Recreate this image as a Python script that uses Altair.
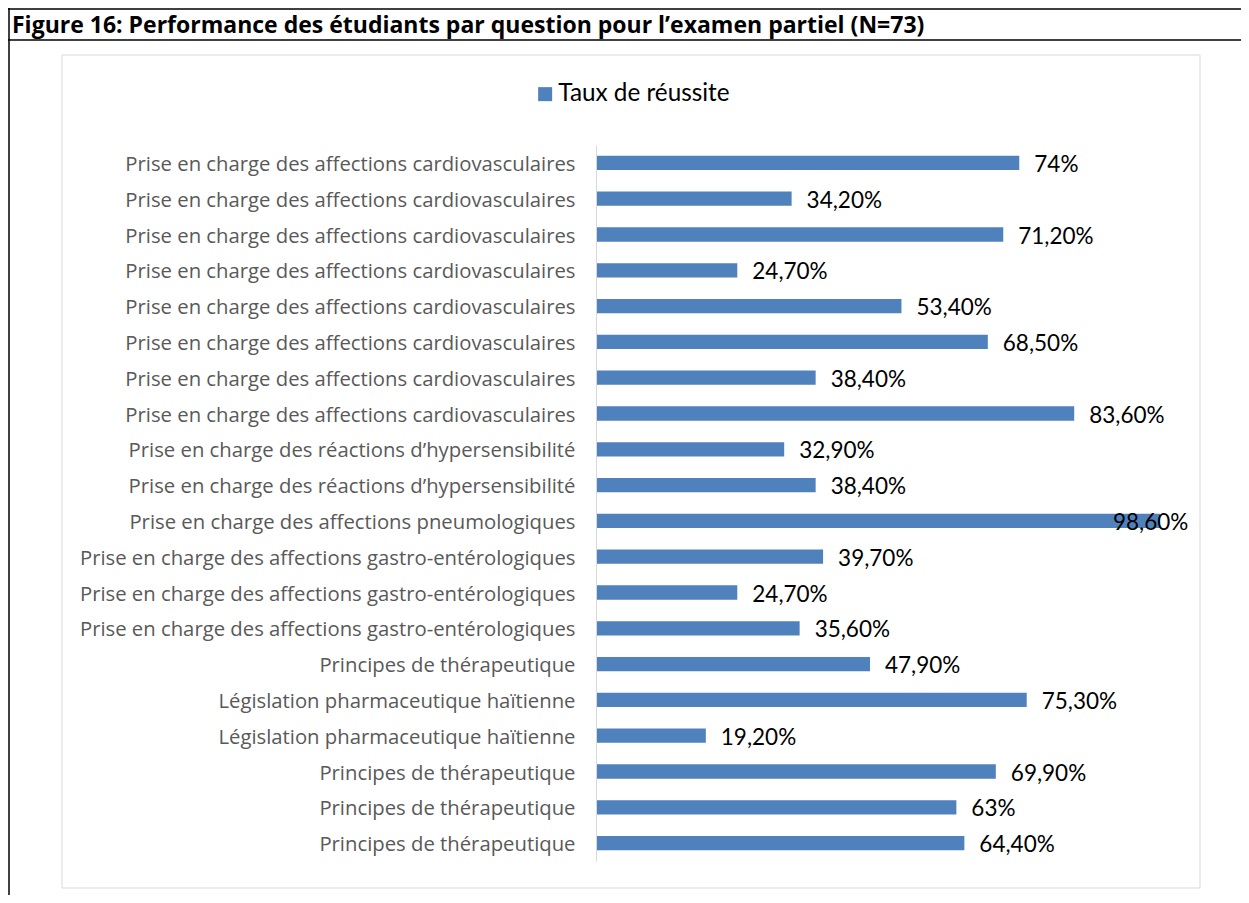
import json
import altair as alt
import pandas as pd

categories = [
    "Prise en charge des affections cardiovasculaires",
    "Prise en charge des affections cardiovasculaires",
    "Prise en charge des affections cardiovasculaires",
    "Prise en charge des affections cardiovasculaires",
    "Prise en charge des affections cardiovasculaires",
    "Prise en charge des affections cardiovasculaires",
    "Prise en charge des affections cardiovasculaires",
    "Prise en charge des affections cardiovasculaires",
    "Prise en charge des réactions d’hypersensibilité",
    "Prise en charge des réactions d’hypersensibilité",
    "Prise en charge des affections pneumologiques",
    "Prise en charge des affections gastro-entérologiques",
    "Prise en charge des affections gastro-entérologiques",
    "Prise en charge des affections gastro-entérologiques",
    "Principes de thérapeutique",
    "Législation pharmaceutique haïtienne",
    "Législation pharmaceutique haïtienne",
    "Principes de thérapeutique",
    "Principes de thérapeutique",
    "Principes de thérapeutique",
]
values = [74, 34.2, 71.2, 24.7, 53.4, 68.5, 38.4, 83.6, 32.9, 38.4,
          98.6, 39.7, 24.7, 35.6, 47.9, 75.3, 19.2, 69.9, 63, 64.4]
value_labels = ["74%", "34,20%", "71,20%", "24,70%", "53,40%", "68,50%", "38,40%",
                "83,60%", "32,90%", "38,40%", "98,60%", "39,70%", "24,70%", "35,60%",
                "47,90%", "75,30%", "19,20%", "69,90%", "63%", "64,40%"]
series_name = "Taux de réussite"
fig_title = "Figure 16: Performance des étudiants par question pour l’examen partiel (N=73)"

df = pd.DataFrame({
    "idx": list(range(len(categories))),
    "cat": categories,
    "v": values,
    "lab": value_labels,
    "serie": [series_name] * len(categories),
})

FONT = "Lato"
CAT_FONT = "Open Sans"
label_expr = json.dumps(categories, ensure_ascii=False) + "[datum.value]"

base = alt.Chart(df)

y_enc = alt.Y("idx:O", title=None,
              scale=alt.Scale(paddingInner=0.6, paddingOuter=0.3),
              axis=alt.Axis(labelExpr=label_expr, labelFont=CAT_FONT, labelFontSize=20.3,
                            labelColor="#595959", ticks=False, labelPadding=21,
                            labelOffset=2,
                            domainColor="#d9d9d9", domainWidth=1, labelLimit=600,
                            zindex=1))
x_scale = alt.Scale(domain=[0, 100], nice=False)

one = pd.DataFrame({"k": [0]})
deco = alt.Chart(one)

inner_box = deco.mark_rect(fill="white", stroke="#d9d9d9", strokeWidth=1).encode(
    x=alt.value(-534), x2=alt.value(604), y=alt.value(-90), y2=alt.value(743))
left_border = deco.mark_rule(color="black", strokeWidth=1.5).encode(
    x=alt.value(-587), y=alt.value(-137), y2=alt.value(752))
top_border = deco.mark_rule(color="black", strokeWidth=1.5).encode(
    x=alt.value(-588), x2=alt.value(650), y=alt.value(-136))
title_line = deco.mark_rule(color="black", strokeWidth=1.5).encode(
    x=alt.value(-588), x2=alt.value(650), y=alt.value(-105))
title_text = deco.mark_text(align="left", baseline="alphabetic", font="Open Sans",
                            fontSize=23, fontWeight="bold", color="black").encode(
    x=alt.value(-584), y=alt.value(-112), text=alt.value(fig_title))

bars = base.mark_bar(size=14.3).encode(
    x=alt.X("v:Q", scale=x_scale, axis=None),
    y=y_enc,
    color=alt.Color("serie:N", scale=alt.Scale(range=["#4F81BD"]),
                    legend=alt.Legend(title=None, orient="none", legendX=-63, legendY=-63,
                                      symbolType="square", symbolSize=196,
                                      symbolStrokeWidth=0, labelFont=FONT,
                                      labelFontSize=24.3, labelColor="black",
                                      labelOffset=1, labelLimit=400)),
)

labels_out = base.transform_filter("datum.v < 95").mark_text(
    align="left", baseline="middle", dx=15, dy=2, font=FONT, fontSize=22.5,
    color="black").encode(
    x=alt.X("v:Q", scale=x_scale), y=alt.Y("idx:O"), text="lab:N")
labels_in = base.transform_filter("datum.v >= 95").mark_text(
    align="left", baseline="middle", dx=-47, dy=2, font=FONT, fontSize=22.5,
    color="black").encode(
    x=alt.X("v:Q", scale=x_scale), y=alt.Y("idx:O"), text="lab:N")

chart = alt.layer(inner_box, left_border, top_border, title_line, title_text,
                  bars, labels_out, labels_in).properties(
    width=572, height=716,
    autosize=alt.AutoSizeParams(type="none"),
    padding={"left": 588, "top": 137, "right": 73, "bottom": 34},
).configure_view(stroke=None).configure(background="white")

chart.save("out.html", embed_options={"renderer": "svg", "actions": False})
